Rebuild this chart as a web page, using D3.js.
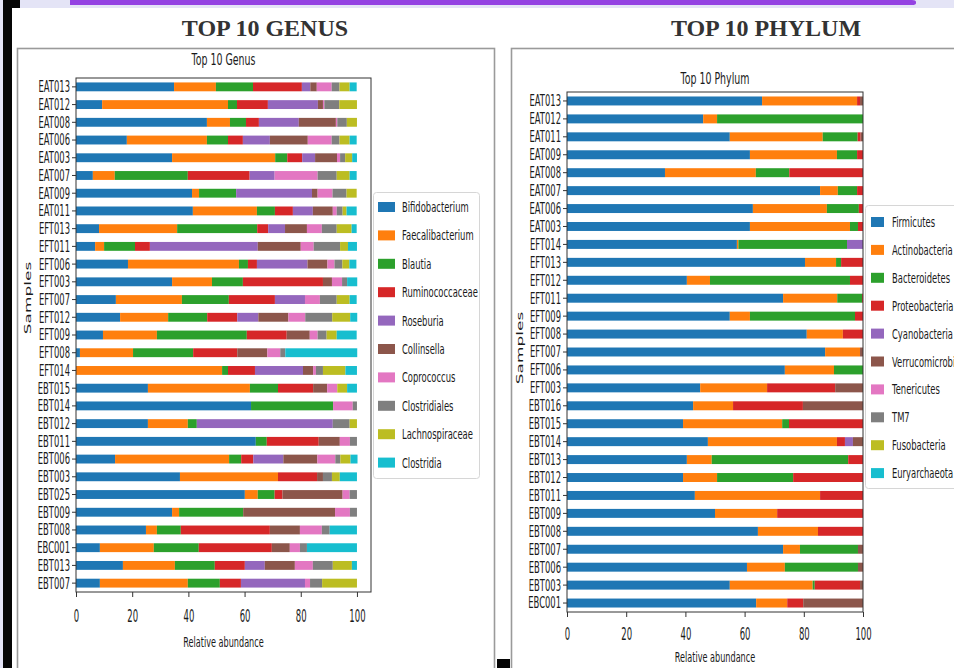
<!DOCTYPE html>
<html><head><meta charset="utf-8">
<script src="https://cdn.jsdelivr.net/npm/d3@7"></script>
<style>body{margin:0;background:#fff;} svg{display:block;}</style>
</head><body>
<svg id="c" width="954" height="668"></svg>
<script>
// ---------------- DATA ----------------
const genusSamples = ["EAT013","EAT012","EAT008","EAT006","EAT003","EAT007","EAT009","EAT011",
  "EFT013","EFT011","EFT006","EFT003","EFT007","EFT012","EFT009","EFT008","EFT014",
  "EBT015","EBT014","EBT012","EBT011","EBT006","EBT003","EBT025","EBT009","EBT008","EBC001","EBT013","EBT007"];
const genusNames = ["Bifidobacterium","Faecalibacterium","Blautia","Ruminococcaceae","Roseburia",
  "Collinsella","Coprococcus","Clostridiales","Lachnospiraceae","Clostridia"];
// one row per sample, values in the order of genusNames (relative abundance, %)
const genusValues = [
  [34.9,14.9,13.2,17.4, 3.0, 2.3, 5.3,2.8, 3.6, 2.5],
  [ 9.3,44.8, 3.2,11.0,17.8, 1.8, 0.5,5.3, 6.3, 0.0],
  [46.6, 8.2, 5.7, 4.6,14.2,13.2, 0.5,3.4, 3.6, 0.0],
  [18.1,28.5, 7.5, 5.3, 9.6,13.5, 8.5,2.8, 3.6, 2.5],
  [34.2,36.7, 4.3, 5.3, 4.6, 7.8, 1.1,1.8, 2.5, 1.7],
  [ 6.0, 7.8,26.0,22.0, 8.9, 0.0,15.3,6.8, 4.6, 2.5],
  [41.3, 2.5,13.2, 0.0,27.0, 2.0, 5.3,5.0, 3.6, 0.0],
  [41.6,22.8, 6.4, 6.4, 7.1, 7.1, 1.4,2.1, 1.4, 3.6],
  [ 8.2,27.8,28.5, 3.9, 6.0, 7.8, 5.3,5.3, 5.3, 1.8],
  [ 6.8, 3.2,11.0, 5.3,38.4,15.3, 4.6,9.4, 2.8, 3.2],
  [18.5,39.5, 3.2, 3.2,18.0, 7.1, 2.5,2.8, 2.5, 2.5],
  [34.2,14.2,11.0,28.5, 0.0, 3.2, 3.6,1.8, 0.0, 3.6],
  [14.2,23.5,16.7,16.4,10.7, 0.0, 5.3,6.0, 4.6, 2.5],
  [15.7,17.1,13.9,10.7, 7.5,10.7, 6.0,9.6, 6.4, 2.5],
  [ 9.6,19.2,32.0,14.2, 0.0, 8.2, 2.8,3.2, 3.6, 7.1],
  [ 1.4,18.9,21.4,15.7, 0.0,10.7, 4.6,1.8, 0.0,25.6],
  [ 0.0,52.0, 2.1, 9.6,17.1, 3.6, 1.0,2.5, 8.0, 4.1],
  [25.6,36.3,10.0,12.5, 0.0, 5.0, 3.6,0.0, 3.5, 3.5],
  [62.3, 0.0,29.2, 0.0, 0.0, 0.0, 7.0,1.5, 0.0, 0.0],
  [25.6,14.2, 3.2, 0.0,48.4, 0.0, 0.0,6.0, 2.6, 0.0],
  [64.0, 0.0, 3.9,18.5, 0.0, 7.5, 3.6,2.5, 0.0, 0.0],
  [13.9,40.6, 4.3, 4.3,10.7,12.1, 6.4,1.8, 3.6, 2.5],
  [37.0,34.9, 0.0,13.9, 0.0, 2.1, 0.0,3.2, 2.8, 6.1],
  [60.1, 4.6, 6.0, 2.8, 0.0,21.4, 2.5,2.6, 0.0, 0.0],
  [34.2, 2.5,22.8, 0.0, 0.0,32.7, 5.3,2.5, 0.0, 0.0],
  [24.9, 3.9, 8.5,31.7, 0.0,10.7, 7.8,2.8, 0.0, 9.7],
  [ 8.5,19.2,16.0,26.0, 0.0, 6.4, 3.6,2.5, 0.0,17.8],
  [16.7,18.5,14.2,10.7, 7.1,10.7, 6.4,7.1, 6.8, 1.8],
  [ 8.5,31.3,11.4, 7.5,22.8, 0.0, 1.8,4.3,12.4, 0.0]
];

const phylumSamples = ["EAT013","EAT012","EAT011","EAT009","EAT008","EAT007","EAT006","EAT003",
  "EFT014","EFT013","EFT012","EFT011","EFT009","EFT008","EFT007","EFT006","EFT003",
  "EBT016","EBT015","EBT014","EBT013","EBT012","EBT011","EBT009","EBT008","EBT007","EBT006","EBT003","EBC001"];
const phylumNames = ["Firmicutes","Actinobacteria","Bacteroidetes","Proteobacteria","Cyanobacteria",
  "Verrucomicrobia","Tenericutes","TM7","Fusobacteria","Euryarchaeota"];
const phylumValues = [
  [65.9,32.1, 0.0, 1.0,0.0, 1.0,0,0,0,0],
  [46.0, 4.7,49.3, 0.0,0.0, 0.0,0,0,0,0],
  [55.0,31.4,11.8, 1.0,0.0, 0.8,0,0,0,0],
  [61.8,29.4, 6.8, 2.0,0.0, 0.0,0,0,0,0],
  [33.1,30.7,11.3,24.9,0.0, 0.0,0,0,0,0],
  [85.5, 6.0, 6.5, 2.0,0.0, 0.0,0,0,0,0],
  [62.8,25.0,10.8, 1.4,0.0, 0.0,0,0,0,0],
  [61.8,33.8, 2.7, 1.7,0.0, 0.0,0,0,0,0],
  [57.4, 0.5,36.7, 0.0,5.4, 0.0,0,0,0,0],
  [80.4,10.5, 1.7, 7.4,0.0, 0.0,0,0,0,0],
  [40.5, 7.8,47.3, 4.4,0.0, 0.0,0,0,0,0],
  [73.0,18.3, 8.4, 0.3,0.0, 0.0,0,0,0,0],
  [55.0, 6.8,35.5, 2.7,0.0, 0.0,0,0,0,0],
  [81.0,12.2, 0.0, 6.8,0.0, 0.0,0,0,0,0],
  [87.2,11.8, 0.0, 0.0,0.0, 1.0,0,0,0,0],
  [73.6,16.6, 9.8, 0.0,0.0, 0.0,0,0,0,0],
  [45.0,22.6, 0.0,23.0,0.0, 9.4,0,0,0,0],
  [42.6,13.5, 0.0,23.6,0.0,20.3,0,0,0,0],
  [39.2,33.5, 2.3,25.0,0.0, 0.0,0,0,0,0],
  [47.6,43.6, 0.0, 2.7,2.7, 3.4,0,0,0,0],
  [40.5, 8.4,46.1, 5.0,0.0, 0.0,0,0,0,0],
  [39.2,11.5,25.7,23.6,0.0, 0.0,0,0,0,0],
  [43.2,42.3, 0.0,14.5,0.0, 0.0,0,0,0,0],
  [50.0,21.0, 0.0,29.0,0.0, 0.0,0,0,0,0],
  [64.5,20.3, 0.0,15.2,0.0, 0.0,0,0,0,0],
  [73.0, 5.7,19.6, 0.0,0.0, 1.7,0,0,0,0],
  [60.8,12.8,24.7, 0.0,0.0, 1.7,0,0,0,0],
  [55.0,28.0, 0.7,15.3,0.0, 1.0,0,0,0,0],
  [63.9,10.5, 0.0, 5.4,0.0,20.2,0,0,0,0]
];
const xTickValues = [0,20,40,60,80,100];
const palette = ["#1f77b4","#ff7f0e","#2ca02c","#d62728","#9467bd","#8c564b","#e377c2","#7f7f7f","#bcbd22","#17becf"];

// ---------------- DRAW ----------------
const svg = d3.select("#c");
const FONT = "DejaVu Sans, Verdana, sans-serif";

// screenshot background
svg.append("rect").attr("x",0).attr("y",0).attr("width",954).attr("height",668).attr("fill","#e4e4f6");
svg.append("rect").attr("x",12).attr("y",8).attr("width",942).attr("height",660).attr("fill","#ffffff");
svg.append("path").attr("d","M70,0 H912 Q916,0 916,2 V3 Q916,5 912,5 H70 Z").attr("fill","#9442e2");
svg.append("rect").attr("x",3).attr("y",0).attr("width",9).attr("height",668).attr("fill","#050505");
svg.append("rect").attr("x",3).attr("y",0).attr("width",17).attr("height",8).attr("fill","#050505");
svg.append("rect").attr("x",497).attr("y",659).attr("width",13).attr("height",9).attr("fill","#050505");

// panel frames
svg.append("rect").attr("x",17.5).attr("y",48.5).attr("width",477).attr("height",640)
  .attr("fill","none").attr("stroke","#9a9a9a").attr("stroke-width",1.6);
svg.append("rect").attr("x",511.5).attr("y",48.5).attr("width",470).attr("height",640)
  .attr("fill","none").attr("stroke","#9a9a9a").attr("stroke-width",1.6);

// big slide titles
function serifTitle(x, y, s){
  svg.append("text").attr("x",x).attr("y",y).attr("text-anchor","middle")
    .attr("font-family","Liberation Serif, Times New Roman, serif").attr("font-weight","bold")
    .attr("font-size",24).attr("fill","#333").text(s);
}
serifTitle(265, 36, "TOP 10 GENUS");
serifTitle(766, 36, "TOP 10 PHYLUM");

// squeezed text helper (the plot images are horizontally compressed)
function sqText(g, x, y, s, size, sx, anchor, rotate){
  return g.append("text")
    .attr("transform", rotate ? `translate(${x},${y}) rotate(-90) scale(1,${sx})` : `translate(${x},${y}) scale(${sx},1)`)
    .attr("text-anchor", anchor || "start")
    .attr("font-family", FONT).attr("font-size", size).attr("fill","#1a1a1a").text(s);
}

function drawChart(cfg){
  const g = svg.append("g");
  const x = d3.scaleLinear().domain([0, cfg.xmax]).range([cfg.left, cfg.right]);
  const y = d3.scaleBand().domain(cfg.samples).range([cfg.top, cfg.bottom]).paddingInner(0.5).paddingOuter(0.25);
  const color = d3.scaleOrdinal().domain(cfg.names).range(palette);
  const rows = cfg.samples.map((s,i)=>{ const o={sample:s}; cfg.names.forEach((n,j)=>o[n]=cfg.values[i][j]); return o; });
  const series = d3.stack().keys(cfg.names)(rows);

  g.append("g").selectAll("g").data(series).join("g").attr("fill", d=>color(d.key))
    .selectAll("rect").data(d=>d).join("rect")
    .attr("x", d=>x(d[0])).attr("width", d=>Math.max(0, x(d[1])-x(d[0])))
    .attr("y", d=>y(d.data.sample)).attr("height", y.bandwidth());

  // spines
  g.append("rect").attr("x",cfg.left).attr("y",cfg.top).attr("width",cfg.right-cfg.left).attr("height",cfg.bottom-cfg.top)
    .attr("fill","none").attr("stroke","#333").attr("stroke-width",1);

  // y axis
  const ya = g.append("g").attr("transform",`translate(${cfg.left},0)`)
    .call(d3.axisLeft(y).tickSize(4).tickSizeOuter(0));
  ya.select(".domain").remove();
  ya.selectAll(".tick line").attr("stroke","#333");
  ya.selectAll(".tick text").attr("x",0).attr("dy","0.36em")
    .attr("transform",`translate(-6,0) scale(0.56,1)`)
    .attr("font-family",FONT).attr("font-size",15).attr("fill","#1a1a1a");

  // x axis
  const xa = g.append("g").attr("transform",`translate(0,${cfg.bottom})`)
    .call(d3.axisBottom(x).tickValues(xTickValues).tickFormat(d3.format("d")).tickSize(5).tickSizeOuter(0));
  xa.select(".domain").remove();
  xa.selectAll(".tick line").attr("stroke","#333");
  xa.selectAll(".tick text").attr("y",0).attr("dy",0)
    .attr("transform",`translate(0,${cfg.xTickDy}) scale(0.5,1)`)
    .attr("font-family",FONT).attr("font-size",17).attr("fill","#1a1a1a");

  const cx = (cfg.left+cfg.right)/2;
  sqText(g, cx, cfg.titleY, cfg.title, 15, 0.63, "middle");
  sqText(g, cx, cfg.xLabelY, "Relative abundance", 14, 0.58, "middle");
  sqText(g, cfg.yLabelX, cfg.yLabelY, "Samples", 17, 0.5, "middle", true);

  // legend
  const L = cfg.legend;
  g.append("rect").attr("x",L.x+0.5).attr("y",L.y+0.5).attr("width",L.w).attr("height",L.h).attr("rx",3)
    .attr("fill","#fff").attr("stroke","#d6d6d6").attr("stroke-width",1);
  cfg.names.forEach((n,i)=>{
    const yy = L.first + i*L.step;
    g.append("rect").attr("x",L.sw0).attr("y",yy-5).attr("width",L.sww).attr("height",10).attr("fill",color(n));
    sqText(g, L.tx, yy+5, n, 14, 0.6, "start");
  });
}

drawChart({
  samples: genusSamples, names: genusNames, values: genusValues, title: "Top 10 Genus",
  left: 76, right: 371, top: 78, bottom: 592, xmax: 105, titleY: 65,
  xTickDy: 30, xLabelY: 647, yLabelX: 31, yLabelY: 298,
  legend: {x:373, y:192, w:106, h:286, first:207, step:28.4, sw0:378, sww:17, tx:402}
});
drawChart({
  samples: phylumSamples, names: phylumNames, values: phylumValues, title: "Top 10 Phylum",
  left: 567, right: 863, top: 92, bottom: 612, xmax: 100, titleY: 84,
  xTickDy: 28, xLabelY: 662, yLabelX: 523, yLabelY: 348,
  legend: {x:865, y:205, w:110, h:283, first:222, step:27.9, sw0:871, sww:13, tx:892}
});
</script>
</body></html>
